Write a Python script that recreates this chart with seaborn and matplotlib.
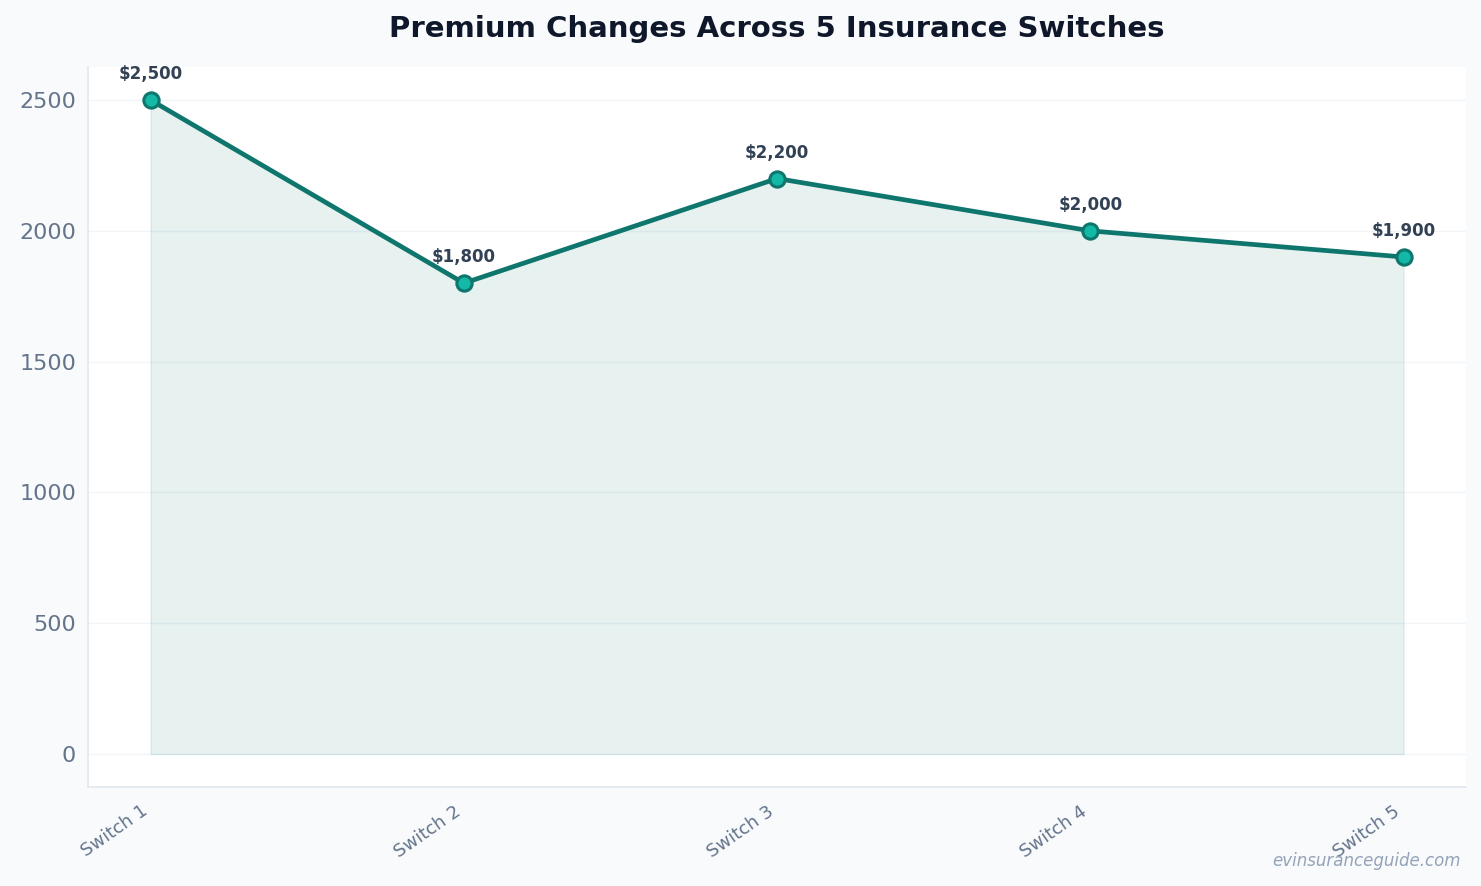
import pandas as pd
import matplotlib.pyplot as plt
import seaborn as sns

# chart data
switches = ['Switch 1', 'Switch 2', 'Switch 3', 'Switch 4', 'Switch 5']
premiums = [2500, 1800, 2200, 2000, 1900]

df = pd.DataFrame({'switch': switches, 'premium': premiums})
df['pos'] = range(len(df))

sns.set_style('white')
plt.rcParams['font.family'] = ['DejaVu Sans']

fig, ax = plt.subplots(figsize=(14.81, 8.86), dpi=100)
fig.patch.set_facecolor('#f8fafc')
ax.set_facecolor('white')

ax.yaxis.grid(True, color='#f1f5f9', linewidth=1, zorder=0)
ax.set_axisbelow(True)

ax.fill_between(df['pos'], df['premium'], color='#0f766e', alpha=0.1, zorder=1)
sns.lineplot(data=df, x='pos', y='premium', ax=ax, color='#0f766e', linewidth=3.4,
             marker='o', markersize=11, markerfacecolor='#14b8a6',
             markeredgecolor='#0f766e', markeredgewidth=2.2, zorder=3)

for x, y in zip(df['pos'], df['premium']):
    ax.annotate(f'${y:,.0f}', (x, y), xytext=(0, 12), textcoords='offset points',
                ha='center', va='bottom', fontsize=12, fontweight='bold', color='#334155')

ax.set_xticks(df['pos'])
ax.set_xticklabels(df['switch'], rotation=35, ha='right',
                   fontsize=13, color='#64748b')
ax.tick_params(axis='y', labelsize=16, labelcolor='#64748b', length=5, color='#64748b')
ax.tick_params(axis='x', length=5, color='#64748b', pad=6)
ax.set_xlabel('')
ax.set_ylabel('')
ax.set_xlim(-0.2, 4.2)
ax.set_ylim(-125, 2625)

for side in ['top', 'right']:
    ax.spines[side].set_visible(False)
for side in ['left', 'bottom']:
    ax.spines[side].set_color('#e2e8f0')
    ax.spines[side].set_linewidth(1.2)

ax.set_title('Premium Changes Across 5 Insurance Switches', fontsize=21,
             fontweight='bold', color='#0f172a', pad=22)

fig.text(0.986, 0.018, 'evinsuranceguide.com', ha='right', va='bottom',
         fontsize=12, style='italic', color='#94a3b8')

plt.subplots_adjust(left=0.0594, right=0.99, top=0.924, bottom=0.112)
plt.savefig('out.png', dpi=100, facecolor=fig.get_facecolor())
